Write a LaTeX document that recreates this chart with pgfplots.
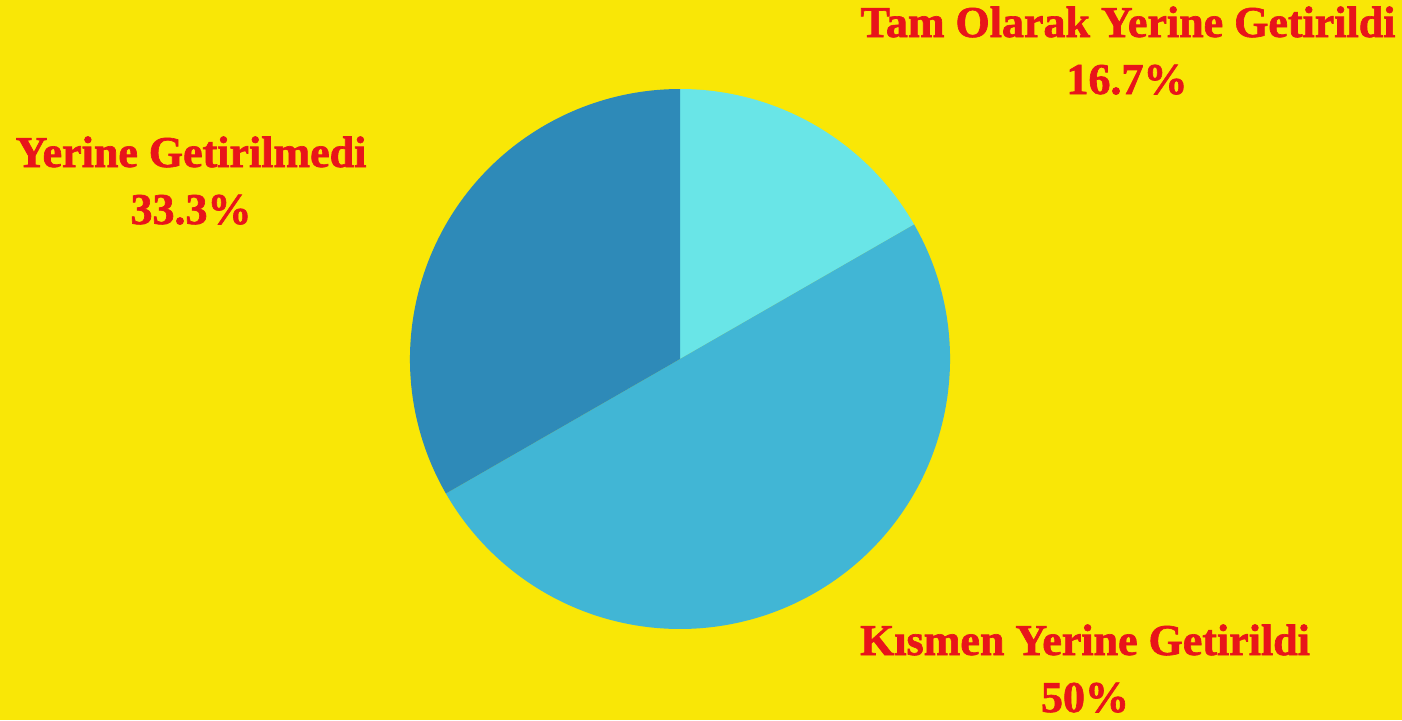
\documentclass[border=0pt]{standalone}
\usepackage{fontspec}
\setmainfont{Liberation Serif}[BoldFeatures={FakeBold=1.5}]
\usepackage{pgfplots}
\pgfplotsset{compat=1.18}
\definecolor{bgYellow}{HTML}{F9E706}
\definecolor{lblRed}{HTML}{E8141A}
\definecolor{sliceA}{HTML}{69E5E7}
\definecolor{sliceB}{HTML}{41B6D5}
\definecolor{sliceC}{HTML}{2E8AB8}

\begin{document}
\begin{tikzpicture}
\fill[bgYellow] (0,0) rectangle (701pt,360pt);
\begin{axis}[
  at={(0,0)}, anchor=south west,
  width=701pt, height=360pt, scale only axis,
  xmin=0, xmax=1402, ymin=0, ymax=720,
  hide axis, clip=false,
]
% shares in percent, clockwise from 12 o'clock; radius 270 px = 135pt
\pgfplotsextra{
  \xdef\startang{90}
  \foreach \v/\c in {16.7/sliceA, 50/sliceB, 33.3/sliceC} {
    \pgfmathsetmacro\endang{\startang - 3.6*\v}
    \fill[\c] (axis cs:680,361) -- ++(\startang:135pt)
      arc[start angle=\startang, end angle=\endang, radius=135pt] -- cycle;
    \xdef\startang{\endang}
  }
}
\tikzset{lbl/.style={anchor=base, text=lblRed, font=\fontsize{22}{25}\selectfont\bfseries, inner sep=0pt}}
\node[lbl] at (axis cs:1128,683) {Tam Olarak Yerine Getirildi};
\node[lbl] at (axis cs:1127,626) {16.7\%};
\node[lbl] at (axis cs:191,553) {Yerine Getirilmedi};
\node[lbl] at (axis cs:191,496) {33.3\%};
\node[lbl] at (axis cs:1085,65) {Kısmen Yerine Getirildi};
\node[lbl] at (axis cs:1085,8) {50\%};
\end{axis}
\end{tikzpicture}
\end{document}
